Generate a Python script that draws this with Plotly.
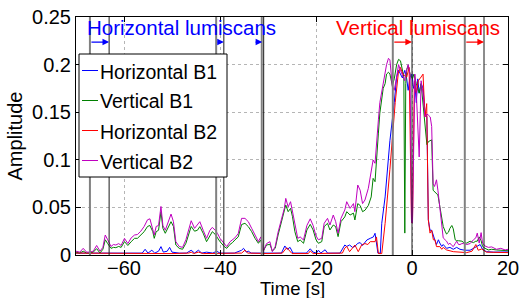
import plotly.graph_objects as go

# ---- data ----
t_v = [-70.0, -69.2, -68.5, -67.8, -67.2, -66.4, -65.7, -65.0, -64.4, -63.9,
       -63.4, -62.7, -62.2, -61.7, -61.1, -60.6, -59.9, -59.2, -58.5, -57.8,
       -57.2, -56.5, -55.8, -55.1, -54.6, -54.0, -53.7, -53.3, -52.8, -52.3,
       -51.9, -51.4, -50.9, -50.2, -49.7, -49.2, -48.5, -47.8, -47.1, -46.5,
       -46.0, -45.3, -44.7, -44.2, -43.5, -42.8, -42.1, -41.6, -41.0, -40.5,
       -40.0, -39.1, -38.6, -37.9, -37.4, -36.9, -36.2, -35.5, -34.8, -34.1,
       -33.4, -32.7, -32.0, -31.5, -31.0, -30.3, -29.6, -29.1, -28.5, -27.9,
       -27.2, -26.6, -26.3, -25.8, -25.3, -24.9, -24.4, -23.8, -23.3, -22.6,
       -21.9, -21.2, -20.6, -20.0, -19.5, -18.8, -18.3, -17.6, -17.1, -16.4,
       -15.9, -15.4, -14.8, -14.0, -13.6, -12.9, -12.2, -11.9, -11.3, -10.8,
       -10.3, -9.8, -9.1, -8.5, -8.1, -7.7, -7.4, -7.0, -6.7, -6.3,
       -6.0, -5.6, -5.3, -4.9, -4.6, -4.1, -3.7, -3.2, -2.8, -2.4,
       -2.1, -1.7, -1.5, -1.3, -1.1, -0.8, -0.4, -0.1, 0.1, 0.4,
       0.6, 0.9, 1.2, 1.5, 1.9, 2.3, 2.7, 3.1, 3.4, 3.8,
       4.1, 4.4, 4.7, 5.1, 5.4, 5.8, 6.2, 6.5, 6.9, 7.2,
       7.6, 7.9, 8.3, 8.6, 9.0, 9.3, 9.7, 10.0, 10.4, 10.8,
       11.4, 12.1, 12.8, 13.3, 13.6, 14.0, 14.4, 14.7, 15.2, 15.9,
       16.6, 17.6, 18.5, 19.4, 20.0]

vertical_b2 = [0.004, 0.003, 0.007, 0.003, 0.003, 0.004, 0.010, 0.004, 0.008, 0.021,
               0.016, 0.009, 0.011, 0.0105, 0.012, 0.010, 0.0175, 0.012, 0.018, 0.021,
               0.0215, 0.025, 0.030, 0.037, 0.038, 0.028, 0.021, 0.030, 0.031, 0.051,
               0.031, 0.026, 0.033, 0.043, 0.035, 0.014, 0.009, 0.008, 0.016, 0.028,
               0.036, 0.028, 0.032, 0.035, 0.026, 0.0175, 0.026, 0.029, 0.026, 0.0225,
               0.0175, 0.0123, 0.0088, 0.014, 0.016, 0.018, 0.0225, 0.0385, 0.0385, 0.035,
               0.028, 0.021, 0.014, 0.019, 0.0035, 0.012, 0.014, 0.0035, 0.0088, 0.024,
               0.0385, 0.049, 0.0595, 0.0505, 0.056, 0.0455, 0.0298, 0.0175, 0.019, 0.0158,
               0.031, 0.038, 0.031, 0.020, 0.016, 0.0175, 0.0333, 0.0385, 0.0315, 0.042,
               0.035, 0.0228, 0.0385, 0.0473, 0.056, 0.049, 0.054, 0.0455, 0.0735, 0.068,
               0.054, 0.0578, 0.070, 0.089, 0.0998, 0.0963, 0.121, 0.142, 0.160, 0.1715,
               0.180, 0.1925, 0.200, 0.2066, 0.205, 0.177, 0.173, 0.187, 0.200, 0.194,
               0.190, 0.186, 0.183, 0.190, 0.195, 0.200, 0.190, 0.034, 0.034, 0.170,
               0.190, 0.170, 0.140, 0.103, 0.183, 0.170, 0.145, 0.148, 0.147, 0.145,
               0.135, 0.075, 0.072, 0.079, 0.068, 0.049, 0.033, 0.018, 0.016, 0.0145,
               0.011, 0.0125, 0.010, 0.0088, 0.012, 0.0145, 0.011, 0.011, 0.012, 0.012,
               0.011, 0.012, 0.016, 0.018, 0.023, 0.0125, 0.0235, 0.0125, 0.0095, 0.008,
               0.0085, 0.006, 0.007, 0.0053, 0.006]

vertical_b1 = [0.003, 0.002, 0.004, 0.002, 0.002, 0.003, 0.0067, 0.002, 0.006, 0.016,
               0.012, 0.007, 0.008, 0.0077, 0.009, 0.008, 0.014, 0.010, 0.014, 0.0175,
               0.0175, 0.021, 0.0245, 0.030, 0.031, 0.0245, 0.0175, 0.0245, 0.026, 0.0455,
               0.028, 0.0228, 0.028, 0.035, 0.030, 0.0105, 0.007, 0.006, 0.0123, 0.022,
               0.030, 0.025, 0.026, 0.0298, 0.0228, 0.014, 0.021, 0.0245, 0.0217, 0.0175,
               0.014, 0.0088, 0.007, 0.0112, 0.013, 0.0158, 0.019, 0.032, 0.0333, 0.0298,
               0.0245, 0.0175, 0.0123, 0.0158, 0.0042, 0.0105, 0.0112, 0.0042, 0.007, 0.021,
               0.035, 0.0438, 0.0525, 0.0455, 0.049, 0.0403, 0.0245, 0.014, 0.0158, 0.0123,
               0.0263, 0.0322, 0.0263, 0.016, 0.0123, 0.014, 0.0298, 0.0333, 0.0263, 0.0315,
               0.0298, 0.0193, 0.035, 0.040, 0.0455, 0.042, 0.044, 0.0368, 0.054, 0.052,
               0.0455, 0.047, 0.052, 0.061, 0.0805, 0.077, 0.103, 0.128, 0.149, 0.163,
               0.175, 0.180, 0.190, 0.192, 0.190, 0.178, 0.185, 0.200, 0.2055, 0.204,
               0.195, 0.187, 0.023, 0.180, 0.195, 0.199, 0.190, 0.186, 0.185, 0.190,
               0.185, 0.180, 0.175, 0.170, 0.180, 0.160, 0.138, 0.116, 0.119, 0.120,
               0.121, 0.068, 0.0665, 0.065, 0.063, 0.051, 0.040, 0.030, 0.025, 0.022,
               0.024, 0.028, 0.031, 0.0275, 0.016, 0.015, 0.015, 0.015, 0.0145, 0.013,
               0.0125, 0.0145, 0.013, 0.0145, 0.0145, 0.019, 0.015, 0.009, 0.007, 0.0053,
               0.006, 0.0053, 0.005, 0.0045, 0.0045]

t_hb1 = [-70.0, -66.0, -62.0, -58.0, -56.2, -55.6, -55.0, -54.2, -53.6, -52.8,
         -52.3, -51.8, -51.0, -50.5, -50.0, -48.5, -47.0, -46.0, -45.3, -44.5,
         -43.8, -42.8, -41.5, -40.7, -40.0, -37.0, -35.5, -35.1, -34.5, -34.1,
         -33.5, -31.0, -27.2, -26.5, -26.0, -25.4, -24.8, -22.0, -21.2, -20.6,
         -19.9, -19.5, -19.0, -18.1, -17.6, -15.0, -14.0, -13.6, -13.0, -12.4,
         -11.9, -11.3, -10.8, -10.3, -9.4, -8.7, -8.05, -7.7, -7.4, -7.1,
         -6.6, -6.3, -5.6, -4.6, -3.7, -3.2, -2.8, -2.4, -2.0, -1.5,
         -1.1, -0.8, -0.4, 0.0, 0.3, 0.6, 0.9, 1.2, 1.5, 1.9,
         2.3, 2.7, 3.1, 3.4, 3.75, 4.1, 4.45, 4.8, 5.1, 5.5,
         5.8, 6.2, 6.5, 6.9, 7.2, 7.9, 8.6, 9.3, 10.0, 11.0,
         12.1, 12.8, 13.5, 14.2, 14.7, 15.5, 17.0, 20.0]
horizontal_b1 = [0.002, 0.002, 0.0015, 0.002, 0.002, 0.006, 0.002, 0.005, 0.002, 0.004,
                 0.0088, 0.003, 0.004, 0.008, 0.003, 0.002, 0.002, 0.005, 0.002, 0.005,
                 0.002, 0.003, 0.002, 0.004, 0.002, 0.002, 0.005, 0.007, 0.003, 0.004,
                 0.002, 0.002, 0.002, 0.0095, 0.006, 0.008, 0.002, 0.002, 0.0065, 0.003,
                 0.002, 0.005, 0.002, 0.0055, 0.002, 0.002, 0.0105, 0.009, 0.0105, 0.008,
                 0.009, 0.0123, 0.013, 0.010, 0.0158, 0.0175, 0.019, 0.0228, 0.014, 0.002,
                 0.002, 0.0333, 0.061, 0.120, 0.160, 0.187, 0.194, 0.190, 0.186, 0.194,
                 0.185, 0.173, 0.187, 0.190, 0.175, 0.180, 0.160, 0.185, 0.170, 0.180,
                 0.175, 0.150, 0.145, 0.037, 0.026, 0.026, 0.019, 0.015, 0.011, 0.016,
                 0.0125, 0.009, 0.011, 0.008, 0.007, 0.008, 0.006, 0.008, 0.006, 0.005,
                 0.005, 0.007, 0.0088, 0.011, 0.006, 0.0035, 0.003, 0.0032]

t_hb2 = [-70.0, -60.0, -55.0, -50.0, -46.5, -46.0, -45.5, -44.5, -43.5, -40.0,
         -35.5, -34.8, -34.2, -30.0, -27.0, -26.1, -25.5, -25.0, -21.6, -21.2,
         -20.6, -15.0, -14.5, -14.0, -13.6, -13.0, -11.9, -11.2, -10.5, -9.8,
         -9.2, -8.7, -7.7, -7.4, -7.0, -6.3, -5.6, -4.6, -3.5, -2.85,
         -2.4, -1.9, -1.1, -0.6, -0.1, 0.1, 0.5, 0.9, 1.3, 1.9,
         2.3, 2.7, 3.06, 3.4, 3.75, 4.1, 4.45, 4.8, 5.1, 5.8,
         6.2, 6.5, 7.2, 8.6, 10.0, 11.4, 12.5, 13.3, 13.8, 14.5,
         15.5, 20.0]
horizontal_b2 = [0.002, 0.0015, 0.002, 0.0015, 0.002, 0.003, 0.0015, 0.003, 0.0015, 0.0015,
                 0.002, 0.005, 0.002, 0.0015, 0.002, 0.0077, 0.004, 0.0015, 0.0015, 0.0042,
                 0.0015, 0.0015, 0.002, 0.0073, 0.009, 0.0035, 0.0105, 0.0035, 0.0105, 0.012,
                 0.011, 0.014, 0.014, 0.019, 0.0015, 0.0015, 0.0333, 0.090, 0.160, 0.191,
                 0.197, 0.190, 0.187, 0.197, 0.034, 0.034, 0.183, 0.170, 0.183, 0.187,
                 0.190, 0.145, 0.159, 0.037, 0.023, 0.026, 0.016, 0.016, 0.0088, 0.0088,
                 0.006, 0.008, 0.0053, 0.0035, 0.003, 0.0025, 0.004, 0.011, 0.005, 0.0063,
                 0.003, 0.0025]

series_names = ["Horizontal B1", "Vertical B1", "Horizontal B2", "Vertical B2"]
series_colors = ["#0000ff", "#008000", "#ff0000", "#bf00bf"]

# lumiscan boundaries (start = grey line, end = black line) and arrow tails
h_scan_start = [-67.1, -40.8, -31.3]
h_scan_end = [-63.1, -39.2, -30.9]
h_arrow_from = [-67.1, -40.8, -32.9]
h_arrow_to = [-63.1, -39.2, -31.2]
v_scan_start = [-4.0, 11.0]
v_scan_end = [0.0, 15.0]
arrow_y = 0.2237

x_ticks = [-60, -40, -20, 0, 20]
x_range = [-70, 20]
y_range = [0, 0.25]

FONT = "Liberation Sans, Arial, Helvetica, sans-serif"

fig = go.Figure()
xs = [t_hb1, t_v, t_hb2, t_v]
ys = [horizontal_b1, vertical_b1, horizontal_b2, vertical_b2]
for name, col, x, y in zip(series_names, series_colors, xs, ys):
    fig.add_trace(go.Scatter(x=x, y=y, mode="lines", name=name,
                             line=dict(color=col, width=1), showlegend=False))

shapes = []
for xs0 in h_scan_start + v_scan_start:
    shapes.append(dict(type="line", xref="x", yref="y", x0=xs0, x1=xs0, y0=0, y1=0.25,
                       line=dict(color="#808080", width=2), layer="above"))
for xs1 in h_scan_end + v_scan_end:
    shapes.append(dict(type="line", xref="x", yref="y", x0=xs1, x1=xs1, y0=0, y1=0.25,
                       line=dict(color="#1a1a1a", width=1), layer="above"))

# legend box (drawn manually to match the MATLAB legend)
PW, PH = 432.0, 238.0
def px(xp):
    return (xp - 76) / PW
def py(yp):
    return (255 - yp) / PH

shapes.append(dict(type="rect", xref="paper", yref="paper", x0=px(79), x1=px(227),
                   y0=py(177), y1=py(54), fillcolor="white",
                   line=dict(color="black", width=1), layer="above"))
leg_rows = [70.5, 100.5, 130.5, 160.5]
annotations = []
for name, col, r in zip(series_names, series_colors, leg_rows):
    shapes.append(dict(type="line", xref="paper", yref="paper", x0=px(82), x1=px(98),
                       y0=py(r), y1=py(r), line=dict(color=col, width=1), layer="above"))
    annotations.append(dict(xref="paper", yref="paper", x=px(97.5), y=py(r + 1),
                            xanchor="left", yanchor="middle", text=name, showarrow=False,
                            font=dict(family=FONT, size=19.5, color="black")))

for a0, a1 in zip(h_arrow_from, h_arrow_to):
    annotations.append(dict(x=a1, y=arrow_y, ax=a0, ay=arrow_y, xref="x", yref="y",
                            axref="x", ayref="y", text="", showarrow=True,
                            arrowhead=2, arrowsize=1.1, arrowwidth=1.2, arrowcolor="#0000ff"))
for a0, a1 in zip(v_scan_start, v_scan_end):
    annotations.append(dict(x=a1, y=arrow_y, ax=a0, ay=arrow_y, xref="x", yref="y",
                            axref="x", ayref="y", text="", showarrow=True,
                            arrowhead=2, arrowsize=1.1, arrowwidth=1.2, arrowcolor="#ff0000"))

annotations.append(dict(x=-48.0, y=0.2385, xref="x", yref="y", text="Horizontal lumiscans",
                        showarrow=False, xanchor="center", yanchor="middle",
                        font=dict(family=FONT, size=20.5, color="#0000ff")))
annotations.append(dict(x=1.2, y=0.2385, xref="x", yref="y", text="Vertical lumiscans",
                        showarrow=False, xanchor="center", yanchor="middle",
                        font=dict(family=FONT, size=20.5, color="#ff0000")))
# x-axis title placed explicitly so it stays inside the 298 px tall picture
annotations.append(dict(x=0.5, y=py(288), xref="paper", yref="paper", text="Time [s]",
                        showarrow=False, xanchor="center", yanchor="middle",
                        font=dict(family=FONT, size=18.5, color="black")))

axis_common = dict(showline=True, linecolor="black", linewidth=1, mirror="ticks",
                   ticks="inside", ticklen=5, tickcolor="black", showgrid=True,
                   gridcolor="#b5b5b5", griddash="dot", gridwidth=1, zeroline=False,
                   automargin=False,
                   tickfont=dict(family=FONT, size=20, color="black"))

fig.update_layout(
    width=527, height=298,
    margin=dict(l=76, r=19, t=17, b=43, autoexpand=False),
    paper_bgcolor="white", plot_bgcolor="white",
    font=dict(family=FONT, size=20, color="black"),
    shapes=shapes, annotations=annotations,
    showlegend=False,
    xaxis=dict(range=x_range, tickvals=x_ticks, ticklabelstandoff=-5, **axis_common),
    yaxis=dict(range=y_range, dtick=0.05, title=dict(text="Amplitude", standoff=4,
               font=dict(family=FONT, size=20)), **axis_common),
)

fig.write_html("out.html", config={"displayModeBar": False},
               post_script="document.body.style.margin='0';document.body.style.overflow='hidden';")
